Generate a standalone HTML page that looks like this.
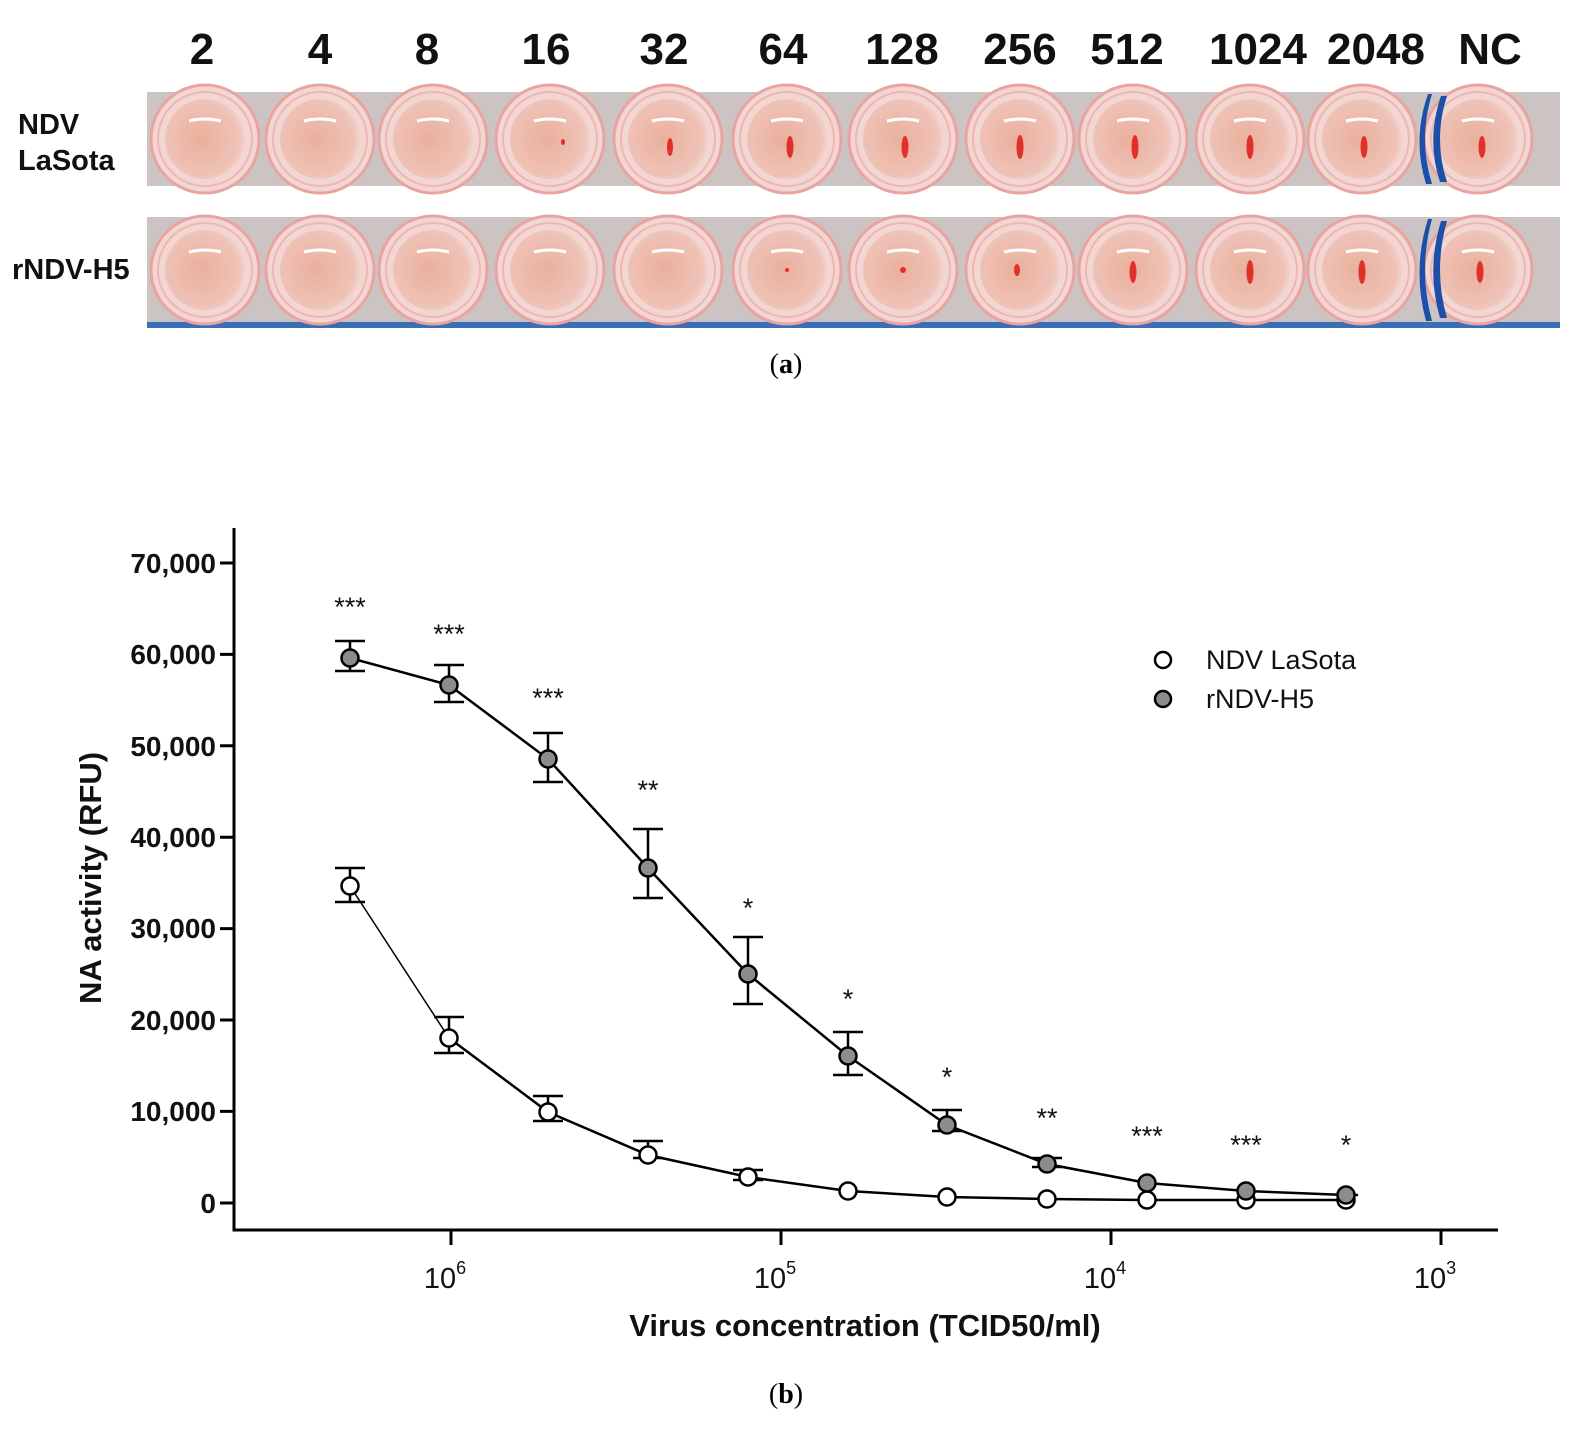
<!DOCTYPE html>
<html><head><meta charset="utf-8"><style>
html,body{margin:0;padding:0;background:#fff;}
svg{display:block;}
</style></head><body>
<svg width="1579" height="1432" viewBox="0 0 1579 1432" xmlns="http://www.w3.org/2000/svg">
<rect width="1579" height="1432" fill="#fff"/>
<defs>
<radialGradient id="liq" cx="0.45" cy="0.5" r="0.6">
<stop offset="0" stop-color="#eab09b"/><stop offset="0.8" stop-color="#efc3b8"/><stop offset="1" stop-color="#f6dcd6"/>
</radialGradient>
<g id="well">
<circle r="54" fill="#f2d6d3" stroke="#eaa49f" stroke-width="3"/>
<circle r="47" fill="none" stroke="#f0b6b0" stroke-width="2"/>
<circle r="40" fill="url(#liq)"/>
<path d="M-16,-18 Q0,-22 16,-18" stroke="#fff" stroke-width="3" fill="none"/>
</g>
</defs>
<g font-family="Liberation Sans, sans-serif" font-weight="bold" font-size="44" text-anchor="middle" fill="#111">
<text x="202" y="64">2</text><text x="320" y="64">4</text><text x="427" y="64">8</text><text x="546" y="64">16</text>
<text x="664" y="64">32</text><text x="783" y="64">64</text><text x="902" y="64">128</text><text x="1020" y="64">256</text>
<text x="1127" y="64">512</text><text x="1258" y="64">1024</text><text x="1376" y="64">2048</text><text x="1490" y="64">NC</text>
</g>
<g font-family="Liberation Sans, sans-serif" font-weight="bold" font-size="29" fill="#111">
<text x="18" y="134">NDV</text><text x="18" y="170">LaSota</text><text x="12" y="279">rNDV-H5</text>
</g>
<rect x="147" y="92" width="1413" height="94" fill="#cbc4c3"/>
<rect x="147" y="217" width="1413" height="111" fill="#cbc4c3"/>
<rect x="147" y="322" width="1413" height="6" fill="#3a6fb8"/>
<g>
<use href="#well" x="205" y="139"/><use href="#well" x="320" y="139"/><use href="#well" x="433" y="139"/><use href="#well" x="550" y="139"/>
<use href="#well" x="668" y="139"/><use href="#well" x="787" y="139"/><use href="#well" x="903" y="139"/><use href="#well" x="1020" y="139"/>
<use href="#well" x="1133" y="139"/><use href="#well" x="1250" y="139"/><use href="#well" x="1362" y="139"/><use href="#well" x="1478" y="139"/>
<use href="#well" x="205" y="270"/><use href="#well" x="320" y="270"/><use href="#well" x="433" y="270"/><use href="#well" x="550" y="270"/>
<use href="#well" x="668" y="270"/><use href="#well" x="787" y="270"/><use href="#well" x="903" y="270"/><use href="#well" x="1020" y="270"/>
<use href="#well" x="1133" y="270"/><use href="#well" x="1250" y="270"/><use href="#well" x="1362" y="270"/><use href="#well" x="1478" y="270"/>
</g>
<g fill="#e0302c">
<ellipse cx="563" cy="142" rx="2" ry="3"/>
<ellipse cx="670" cy="147" rx="3" ry="9"/><ellipse cx="790" cy="147" rx="3.5" ry="11"/><ellipse cx="905" cy="147" rx="3.5" ry="11"/>
<ellipse cx="1020" cy="147" rx="3.5" ry="12"/><ellipse cx="1135" cy="147" rx="3.5" ry="12"/><ellipse cx="1250" cy="147" rx="3.5" ry="12"/>
<ellipse cx="1364" cy="147" rx="3.5" ry="11"/><ellipse cx="1482" cy="147" rx="3.5" ry="11"/>
<ellipse cx="787" cy="270" rx="2" ry="2"/><ellipse cx="903" cy="270" rx="3" ry="3"/><ellipse cx="1017" cy="270" rx="3" ry="6"/>
<ellipse cx="1133" cy="272" rx="3.5" ry="11"/><ellipse cx="1250" cy="272" rx="3.5" ry="12"/><ellipse cx="1362" cy="272" rx="3.5" ry="12"/><ellipse cx="1480" cy="272" rx="3.5" ry="11"/>
</g>
<g fill="#1b4fa8">
<path d="M1432,94 Q1418,139 1432,184 L1426,184 Q1412,139 1428,94Z"/>
<path d="M1447,96 Q1433,139 1447,182 L1440,182 Q1426,139 1441,96Z"/>
<path d="M1432,219 Q1418,270 1432,321 L1426,321 Q1412,270 1428,219Z"/>
<path d="M1447,221 Q1433,270 1447,318 L1440,318 Q1426,270 1441,221Z"/>
</g>
<text x="786" y="373" font-family="Liberation Serif, serif" font-size="28" text-anchor="middle">(<tspan font-weight="bold">a</tspan>)</text>
<text x="786" y="1403" font-family="Liberation Serif, serif" font-size="28" text-anchor="middle">(<tspan font-weight="bold">b</tspan>)</text>

<g stroke="#000" stroke-width="3" fill="none">
<path d="M234,528 V1230 H1498"/>
<path d="M220,563 H234 M220,654.4 H234 M220,745.8 H234 M220,837.2 H234 M220,928.6 H234 M220,1020 H234 M220,1111.4 H234 M220,1203 H234"/>
<path d="M451,1230 V1245 M781,1230 V1245 M1111,1230 V1245 M1441,1230 V1245"/>
</g>
<g font-family="Liberation Sans, sans-serif" font-weight="bold" font-size="28" text-anchor="end" fill="#111">
<text x="216" y="573">70,000</text><text x="216" y="664">60,000</text><text x="216" y="756">50,000</text><text x="216" y="847">40,000</text>
<text x="216" y="938">30,000</text><text x="216" y="1030">20,000</text><text x="216" y="1121">10,000</text><text x="216" y="1213">0</text>
</g>
<g font-family="Liberation Sans, sans-serif" font-size="29" fill="#111" text-anchor="middle">
<text x="445" y="1288">10<tspan font-size="18" dy="-14">6</tspan></text>
<text x="775" y="1288">10<tspan font-size="18" dy="-14">5</tspan></text>
<text x="1105" y="1288">10<tspan font-size="18" dy="-14">4</tspan></text>
<text x="1435" y="1288">10<tspan font-size="18" dy="-14">3</tspan></text>
</g>
<text x="865" y="1336" font-family="Liberation Sans, sans-serif" font-weight="bold" font-size="31" text-anchor="middle" fill="#111">Virus concentration (TCID50/ml)</text>
<text transform="translate(101,878) rotate(-90)" font-family="Liberation Sans, sans-serif" font-weight="bold" font-size="31" text-anchor="middle" fill="#111">NA activity (RFU)</text>

<g stroke="#000" stroke-width="2.5" fill="none">
<path d="M350,641 V671 M335,641 H365 M335,671 H365"/>
<path d="M449,665 V702 M434,665 H464 M434,702 H464"/>
<path d="M548,733 V782 M533,733 H563 M533,782 H563"/>
<path d="M648,829 V898 M633,829 H663 M633,898 H663"/>
<path d="M748,937 V1004 M733,937 H763 M733,1004 H763"/>
<path d="M848,1032 V1075 M833,1032 H863 M833,1075 H863"/>
<path d="M947,1110 V1131 M932,1110 H962 M932,1131 H962"/>
<path d="M1047,1158 V1167 M1032,1158 H1062 M1032,1167 H1062"/>
<path d="M350,868 V902 M335,868 H365 M335,902 H365"/>
<path d="M449,1017 V1053 M434,1017 H464 M434,1053 H464"/>
<path d="M548,1096 V1121 M533,1096 H563 M533,1121 H563"/>
<path d="M648,1141 V1158 M633,1141 H663 M633,1158 H663"/>
<path d="M748,1170 V1180 M733,1170 H763 M733,1180 H763"/>
</g>
<polyline fill="none" stroke="#000" stroke-width="2.5" points="350,658 449,685 548,759 648,868 748,974 848,1056 947,1125 1047,1164 1147,1183 1246,1191 1346,1195 1358,1195"/>
<polyline fill="none" stroke="#000" stroke-width="1.5" points="350,886 449,1038"/>
<polyline fill="none" stroke="#000" stroke-width="2.5" points="449,1038 548,1112 648,1155 748,1177 848,1191 947,1197 1047,1199 1147,1200 1246,1200 1346,1200"/>
<g fill="#fff" stroke="#000" stroke-width="2.5">
<circle cx="350" cy="886" r="8.5"/><circle cx="449" cy="1038" r="8.5"/><circle cx="548" cy="1112" r="8.5"/><circle cx="648" cy="1155" r="8.5"/>
<circle cx="748" cy="1177" r="8.5"/><circle cx="848" cy="1191" r="8.5"/><circle cx="947" cy="1197" r="8.5"/><circle cx="1047" cy="1199" r="8.5"/>
<circle cx="1147" cy="1200" r="8.5"/><circle cx="1246" cy="1200" r="8.5"/><circle cx="1346" cy="1200" r="8.5"/>
</g>
<g fill="#8c8c8c" stroke="#000" stroke-width="2.5">
<circle cx="350" cy="658" r="8.5"/><circle cx="449" cy="685" r="8.5"/><circle cx="548" cy="759" r="8.5"/><circle cx="648" cy="868" r="8.5"/>
<circle cx="748" cy="974" r="8.5"/><circle cx="848" cy="1056" r="8.5"/><circle cx="947" cy="1125" r="8.5"/><circle cx="1047" cy="1164" r="8.5"/>
<circle cx="1147" cy="1183" r="8.5"/><circle cx="1246" cy="1191" r="8.5"/><circle cx="1346" cy="1195" r="8.5"/>
</g>
<g font-family="Liberation Sans, sans-serif" font-size="27" text-anchor="middle" fill="#111">
<text x="350" y="616">***</text><text x="449" y="643">***</text><text x="548" y="707">***</text><text x="648" y="799">**</text>
<text x="748" y="917">*</text><text x="848" y="1008">*</text><text x="947" y="1086">*</text><text x="1047" y="1127">**</text>
<text x="1147" y="1145">***</text><text x="1246" y="1154">***</text><text x="1346" y="1154">*</text>
</g>
<circle cx="1163" cy="660" r="8" fill="#fff" stroke="#000" stroke-width="2.5"/>
<circle cx="1163" cy="699" r="8" fill="#8c8c8c" stroke="#000" stroke-width="2.5"/>
<g font-family="Liberation Sans, sans-serif" font-size="27" fill="#111">
<text x="1206" y="669">NDV LaSota</text><text x="1206" y="708">rNDV-H5</text>
</g>
</svg>
</body></html>
